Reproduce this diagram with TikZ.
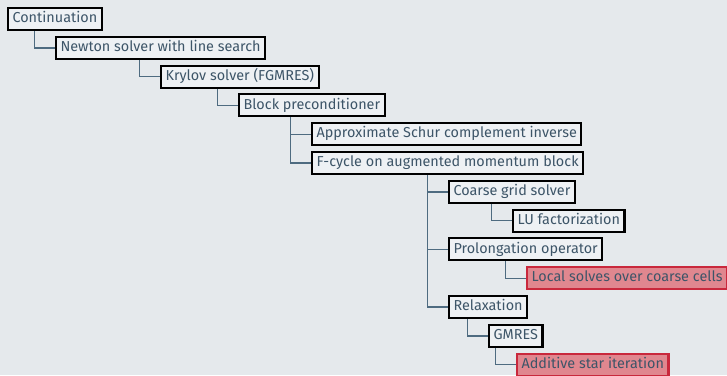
\documentclass[tikz,border=0pt]{standalone}
\usepackage{fontspec}
\setmainfont{Fira Sans}
\definecolor{bgc}{HTML}{E5E9EC}
\definecolor{boxfill}{HTML}{EEF1F4}
\definecolor{txtc}{HTML}{3D5568}
\definecolor{connc}{HTML}{4E6B80}
\definecolor{redfill}{HTML}{E0878F}
\definecolor{redline}{HTML}{C9283C}
\tikzset{
  tbox/.style={draw=black, line width=2.1pt, fill=boxfill, text=txtc, anchor=west,
    inner xsep=4.5pt, inner ysep=0pt, minimum height=22pt,
    font=\fontsize{14.4}{16}\selectfont, text height=10.5pt, text depth=3pt},
  hbox/.style={tbox, draw=redline, fill=redfill},
  conn/.style={draw=connc, line width=1.4pt}
}
\begin{document}
\begin{tikzpicture}[x=1pt,y=-1pt]
\fill[bgc] (0,0) rectangle (727,375);
\useasboundingbox (0,0) rectangle (727,375);
\node[tbox] (cont)   at (7,19)      {Continuation};
\node[tbox] (newton) at (55,47.8)   {Newton solver with line search};
\node[tbox] (krylov) at (160,76.6)  {Krylov solver (FGMRES)};
\node[tbox] (block)  at (238,105.4) {Block preconditioner};
\node[tbox] (schur)  at (311,134.2) {Approximate Schur complement inverse};
\node[tbox] (fcyc)   at (311,163)   {F-cycle on augmented momentum block};
\node[tbox] (coarse) at (448,191.8) {Coarse grid solver};
\node[tbox] (lu)     at (512,220.6) {LU factorization};
\node[tbox] (prol)   at (448,249.4) {Prolongation operator};
\node[hbox] (local)  at (526,278.2) {Local solves over coarse cells};
\node[tbox] (relax)  at (448,307)   {Relaxation};
\node[tbox] (gmres)  at (488,335.8) {GMRES};
\node[hbox] (addst)  at (516,364.6) {Additive star iteration};
\foreach \p/\c in {cont/newton, newton/krylov, krylov/block, block/schur, block/fcyc,
  fcyc/coarse, coarse/lu, fcyc/prol, prol/local, fcyc/relax, relax/gmres, gmres/addst}{
  \coordinate (k-\c) at ([xshift=-20.5pt]\c.west);
  \draw[conn] (\p.south -| k-\c) |- (\c.west);
}
\end{tikzpicture}
\end{document}
